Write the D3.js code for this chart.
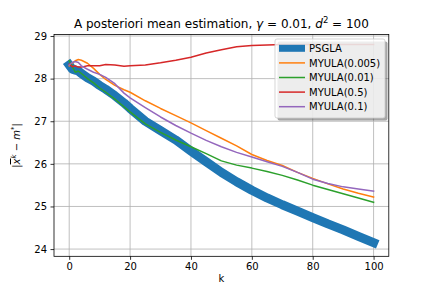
<!DOCTYPE html>
<meta charset="utf-8">
<style>
body{margin:0;background:#fff}
svg{position:absolute;top:0;left:0}
text{font-family:'DejaVu Sans',sans-serif;fill:#000}
.tick text{font-size:10px}
.grid line{stroke:#b0b0b0;stroke-width:0.8}
</style>
<script src="https://d3js.org/d3.v7.min.js"></script>
<svg width="432" height="288"></svg>
<script>
// iteration index k where values were read
var steps = [0,1,2,3,4,6,8,10,12,15,18,20,25,30,35,40,45,50,55,60,65,70,75,80,85,90,95,100];

var psgla    = [28.32,28.22,28.2,28.18,28.12,28.02,27.94,27.84,27.75,27.6,27.43,27.3,27.0,26.78,26.56,26.3,26.05,25.8,25.58,25.38,25.2,25.04,24.89,24.74,24.59,24.45,24.3,24.15];
var myula005 = [28.3,28.36,28.42,28.45,28.43,28.36,28.24,28.1,27.98,27.84,27.74,27.68,27.48,27.3,27.13,26.96,26.78,26.6,26.42,26.22,26.08,25.96,25.8,25.66,25.53,25.41,25.31,25.22];
var myula01  = [28.42,28.28,28.15,28.18,28.12,28.0,27.9,27.78,27.68,27.52,27.34,27.22,26.94,26.74,26.56,26.4,26.24,26.07,25.97,25.9,25.82,25.73,25.62,25.5,25.4,25.3,25.2,25.1];
var myula05  = [28.34,28.28,28.3,28.27,28.27,28.3,28.3,28.3,28.33,28.32,28.29,28.3,28.32,28.37,28.43,28.5,28.6,28.68,28.75,28.78,28.79,28.8,28.8,28.8,28.8,28.8,28.8,28.8];
var myula1   = [28.32,28.38,28.4,28.38,28.3,28.22,28.15,28.1,28.03,27.88,27.66,27.55,27.32,27.1,26.9,26.72,26.55,26.4,26.27,26.16,26.05,25.94,25.8,25.64,25.54,25.46,25.41,25.36];

var xTicks = [0,20,40,60,80,100];
var yTicks = [24,25,26,27,28,29];

var series = [
  {name:"PSGLA", values:psgla, color:"#1f77b4", width:9},
  {name:"MYULA(0.005)", values:myula005, color:"#ff7f0e", width:1.5},
  {name:"MYULA(0.01)", values:myula01, color:"#2ca02c", width:1.5},
  {name:"MYULA(0.5)", values:myula05, color:"#d62728", width:1.5},
  {name:"MYULA(0.1)", values:myula1, color:"#9467bd", width:1.5}
];

var svg = d3.select("svg"),
  pl = 54, pr = 388.8, pt = 34.56, pb = 256.32;

var x = d3.scaleLinear().domain([-5,105]).range([pl,pr]);
var y = d3.scaleLinear().domain([23.83,29.034]).range([pb,pt]);

// grid
var grid = svg.append("g").attr("class","grid");
grid.selectAll(".gx").data(xTicks).enter().append("line")
  .attr("x1",function(d){return x(d);}).attr("x2",function(d){return x(d);})
  .attr("y1",pt).attr("y2",pb);
grid.selectAll(".gy").data(yTicks).enter().append("line")
  .attr("y1",function(d){return y(d);}).attr("y2",function(d){return y(d);})
  .attr("x1",pl).attr("x2",pr);

// lines
var line = d3.line()
  .x(function(d,i){return x(steps[i]);})
  .y(function(d){return y(d);});

svg.append("g").selectAll("path").data(series).enter().append("path")
  .attr("d",function(s){return line(s.values);})
  .attr("fill","none")
  .attr("stroke",function(s){return s.color;})
  .attr("stroke-width",function(s){return s.width;})
  .attr("stroke-linejoin","round")
  .attr("stroke-linecap","square");

// axes
var xa = svg.append("g").attr("transform","translate(0,"+pb+")")
  .call(d3.axisBottom(x).tickValues(xTicks).tickSize(3.5).tickPadding(3.5));
var ya = svg.append("g").attr("transform","translate("+pl+",0)")
  .call(d3.axisLeft(y).tickValues(yTicks).tickFormat(d3.format("d")).tickSize(3.5).tickPadding(3.5));
[xa,ya].forEach(function(a){
  a.select(".domain").remove();
  a.selectAll(".tick line").attr("stroke","#000").attr("stroke-width",0.8);
  a.attr("font-family",null).attr("font-size",null);
});

svg.append("rect").attr("x",pl).attr("y",pt)
  .attr("width",pr-pl).attr("height",pb-pt)
  .attr("fill","none").attr("stroke","#000").attr("stroke-width",0.8);

// title
var t = svg.append("text").attr("x",(pl+pr)/2).attr("y",28)
  .attr("text-anchor","middle").style("font-size","12px");
t.append("tspan").text("A posteriori mean estimation, ");
t.append("tspan").style("font-style","italic").text("γ");
t.append("tspan").text(" = 0.01, ");
t.append("tspan").style("font-style","italic").text("d");
t.append("tspan").attr("dy",-5).style("font-size","8.5px").text("2");
t.append("tspan").attr("dy",5).text(" = 100");

// x label
svg.append("text").attr("x",(pl+pr)/2).attr("y",282)
  .attr("text-anchor","middle").style("font-size","10px").text("k");

// y label
var yl = svg.append("text")
  .attr("transform","translate(20,"+((pt+pb)/2)+") rotate(-90)")
  .attr("text-anchor","middle").style("font-size","10px");
yl.append("tspan").text("|");
yl.append("tspan").style("font-style","italic").style("text-decoration","overline").text("x");
yl.append("tspan").attr("dy",-4).style("font-size","7px").style("font-style","italic").text("k");
yl.append("tspan").attr("dy",4).text(" − ");
yl.append("tspan").style("font-style","italic").text("m");
yl.append("tspan").attr("dy",-4).style("font-size","7px").text("*");
yl.append("tspan").attr("dy",4).text("|");

// legend
var lx = 275, ly = 39, lw = 110, lh = 79;
svg.append("rect").attr("x",lx+2.5).attr("y",ly+2.5).attr("width",lw).attr("height",lh)
  .attr("rx",2).attr("fill","#4d4d4d").attr("fill-opacity",0.5);
svg.append("rect").attr("x",lx).attr("y",ly).attr("width",lw).attr("height",lh)
  .attr("rx",2).attr("fill","#fff").attr("fill-opacity",0.8)
  .attr("stroke","#cccccc").attr("stroke-opacity",0.8).attr("stroke-width",1);

var leg = svg.append("g").selectAll("g").data(series).enter().append("g")
  .attr("transform",function(d,i){return "translate("+lx+","+(ly+9.3+i*14.6)+")";});
leg.append("line").attr("x1",4).attr("x2",30).attr("y1",0).attr("y2",0)
  .attr("stroke",function(s){return s.color;})
  .attr("stroke-width",function(s){return Math.min(s.width,7);});
leg.append("text").attr("x",34).attr("y",3.6).style("font-size","10px")
  .text(function(s){return s.name;});
</script>
